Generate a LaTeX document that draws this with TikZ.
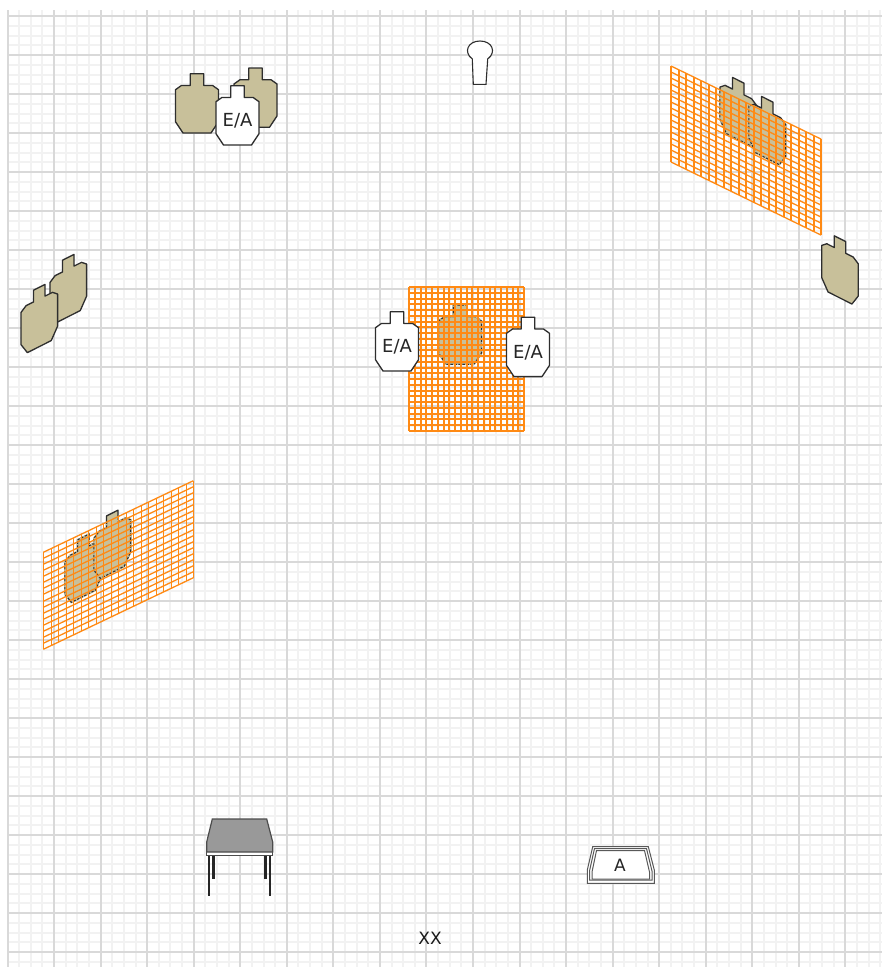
\documentclass[tikz,border=0pt]{standalone}
\usepackage{fontspec}
\setmainfont{DejaVu Sans}
\usepackage{tikz}
\definecolor{tancol}{HTML}{C8C09A}
\definecolor{meshcol}{HTML}{FF8A14}
\definecolor{outcol}{HTML}{2E2E2E}
\newcommand{\targetpath}{(-6.7,0) -- (6.7,0) -- (6.7,11.7) -- (15.5,11.7) -- (21.5,16) -- (21.5,48) -- (14,59.3) -- (-14,59.3) -- (-21.5,48) -- (-21.5,16) -- (-15.5,11.7) -- (-6.7,11.7) -- cycle}
\tikzset{
  minorline/.style = {draw=black!5, line width=2pt},
  majorline/.style = {draw=black!15, line width=2pt},
  meshline/.style = {draw=meshcol, line width=1.3pt},
  slantdown/.style = {cm={0.853,-0.43,0,1,(0,0)}},
  slantup/.style = {cm={0.853,0.43,0,1,(0,0)}},
  tray/.style = {draw=black!65, line width=1pt},
  tantarget/.pic = {\draw[draw=outcol, fill=tancol, line width=1.3pt, line join=round] \targetpath;},
  hiddentarget/.pic = {
    \draw[draw=tancol, line width=1.8pt] \targetpath;
    \draw[draw=outcol, dash pattern=on 2.5pt off 1.5pt, line width=1pt] \targetpath;
  },
  eatarget/.pic = {
    \draw[draw=outcol, fill=white, line width=1.3pt, line join=round] \targetpath;
    \node[font=\fontsize{18}{18}\selectfont, text=black!85] (-label) at (0,35) {E/A};
  },
  pics/mesh/.style n args = {4}{code={
    \foreach \i in {0,...,#3} \draw[meshline] ({round(#1*\i/#3)},0) -- ({round(#1*\i/#3)},#2);
    \foreach \j in {0,...,#4} \draw[meshline] (0,{round(#2*\j/#4)}) -- (#1,{round(#2*\j/#4)});
  }}
}
\begin{document}
\begin{tikzpicture}[x=1pt, y=-1pt]
\useasboundingbox (0,0) rectangle (882,967);
\fill[white] (0,0) rectangle (882,967);

% grid
\foreach \i in {0,...,75} \draw[minorline] ({round(7.5+11.6375*\i)},10) -- ({round(7.5+11.6375*\i)},967);
\foreach \j in {0,...,97} \draw[minorline] (7.5,{round(16+9.75*\j)}) -- (882,{round(16+9.75*\j)});
\foreach \i in {0,...,18} \draw[majorline] ({round(7.5+46.55*\i)},10) -- ({round(7.5+46.55*\i)},967);
\foreach \j in {0,...,24} \draw[majorline] (7.5,{16+39*\j}) -- (882,{16+39*\j});

% top group
\pic (tanA) at (197,73.7) {tantarget};
\pic (tanB) at (255.5,68) {tantarget};
\pic (eaTop) at (237.5,85.7) {eatarget};

% keyhole target
\draw[draw=outcol, fill=white, line width=1.1pt] (473.3,84.3) -- (472.3,59) .. controls (463,52) and (468,41) .. (480,41) .. controls (492,41) and (497,52) .. (487.7,59) -- (486,84.3) -- cycle;

% left pair
\pic[slantup] (tanC) at (68.3,257.3) {tantarget};
\pic[slantup] (tanD) at (39.3,287.3) {tantarget};

% right target
\pic[slantdown] (tanE) at (840,238.7) {tantarget};

% centre wall
\pic (tanF) at (460,305) {tantarget};
\begin{scope}
  \clip (408.3,286) rectangle (524.3,431.7);
  \pic (hidF) at (460,305) {hiddentarget};
\end{scope}
\pic[meshline/.append style={line width=2pt}] (wallC) at (409,287) {mesh={115}{144}{20}{25}};
\pic (eaLeft) at (397,311.7) {eatarget};
\pic (eaRight) at (528,317.3) {eatarget};

% right wall
\pic[slantdown] (tanG) at (738.3,80.3) {tantarget};
\begin{scope}
  \clip (671,66) -- (821,139.3) -- (821,235) -- (671,161.7) -- cycle;
  \pic[slantdown] (hidG) at (738.3,80.3) {hiddentarget};
\end{scope}
\pic[slantdown] (tanH) at (767.3,99.3) {tantarget};
\begin{scope}
  \clip (671,66) -- (821,139.3) -- (821,235) -- (671,161.7) -- cycle;
  \pic[slantdown] (hidH) at (767.3,99.3) {hiddentarget};
\end{scope}
\pic[cm={1,-0.487,0,1,(0,0)}] (wallR) at (671,66) {mesh={150}{96}{20}{16}};

% left wall
\pic[slantup] (tanI) at (83.3,537) {tantarget};
\begin{scope}
  \clip (43.3,552.3) -- (193.3,480.7) -- (193.3,577.3) -- (43.3,649.3) -- cycle;
  \pic[slantup] (hidI) at (83.3,537) {hiddentarget};
\end{scope}
\pic[slantup] (tanJ) at (112.3,513) {tantarget};
\begin{scope}
  \clip (43.3,552.3) -- (193.3,480.7) -- (193.3,577.3) -- (43.3,649.3) -- cycle;
  \pic[slantup] (hidJ) at (112.3,513) {hiddentarget};
\end{scope}
\pic[cm={1,0.477,0,1,(0,0)}] (wallL) at (43.3,552.3) {mesh={150}{97}{20}{16}};

% table
\foreach \x/\y in {209/896, 270/896, 213.3/879, 265.7/879}
  \draw[draw=black!85, line width=2.6pt] (\x,854) -- (\x,\y);
\draw[draw=black!70, fill=white, line width=1pt] (206.7,850) rectangle (272.7,855);
\draw[draw=black!70, fill=black!40, line width=1.2pt] (212.3,819) -- (266.7,819) -- (272.7,842) -- (272.7,852) -- (206.7,852) -- (206.7,842) -- cycle;

% ammo tray
\draw[tray, fill=white] (592.7,846.7) -- (648.3,846.7) -- (654.3,870) -- (654.3,883.3) -- (587.3,883.3) -- (587.3,870) -- cycle;
\draw[tray] (594.5,848.5) -- (646.5,848.5) -- (652,871) -- (652,880) -- (589.5,880) -- (589.5,871) -- cycle;
\draw[tray] (596.5,850.5) -- (644.5,850.5) -- (649.5,872) -- (649.5,879) -- (592,879) -- (592,872) -- cycle;
\node[font=\fontsize{17}{17}\selectfont, text=black!85] (ammo) at (620,865.5) {A};

\node[font=\fontsize{17}{17}\selectfont, text=black!90] (shooter) at (430,938.5) {XX};
\end{tikzpicture}
\end{document}
